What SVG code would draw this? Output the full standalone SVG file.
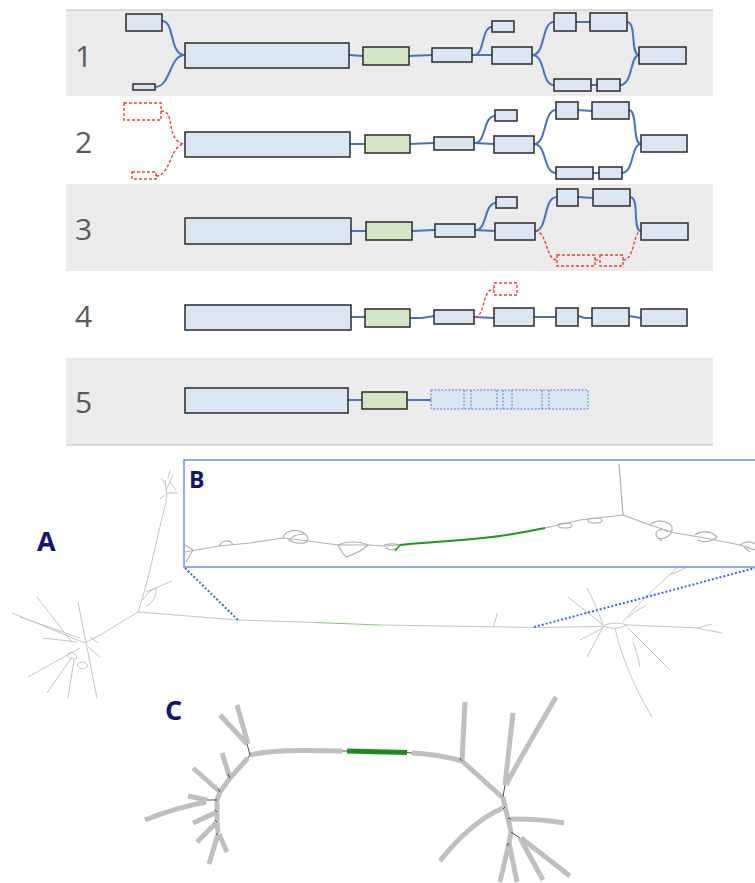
<svg xmlns="http://www.w3.org/2000/svg" width="755" height="883" viewBox="0 0 755 883">
<style>
.band{fill:#ebebeb}
.num{font-family:"Open Sans","Noto Sans",sans-serif;font-size:30px;fill:#595959}
.lab{font-family:"Open Sans","Noto Sans",sans-serif;font-weight:bold;fill:#12127a}
.bx{fill:#dce6f2;stroke:#2a2a2a;stroke-width:1.5}
.gr{fill:#d3e5c3;stroke:#2a2a2a;stroke-width:1.5}
.dr{fill:none;stroke:#e8403a;stroke-width:1.4;stroke-dasharray:3,2}
.c{fill:none;stroke:#4472c4;stroke-width:2}
.cr{fill:none;stroke:#e8403a;stroke-width:1.4;stroke-dasharray:3,2}
.dot{fill:none;stroke:#5a82cc;stroke-width:1;stroke-dasharray:2,1.5}
.dotbox{fill:#d9e5f3;stroke:#5a82cc;stroke-width:1;stroke-dasharray:2,1.5}
.n{fill:none;stroke:#c4c4c4;stroke-width:1}
.nb{fill:none;stroke:#b0b0b0;stroke-width:1.2}
.t{fill:none;stroke:#bfbfbf;stroke-width:5}
.tj{fill:none;stroke:#222;stroke-width:0.8}
.zl{fill:none;stroke:#3a66dd;stroke-width:2;stroke-dasharray:2,2}
</style>
<g id="bands">
<rect class="band" x="66" y="10" width="647" height="86"/>
<rect class="band" x="66" y="184" width="647" height="87"/>
<rect class="band" x="66" y="358" width="647" height="87"/>
<line x1="66" y1="10" x2="713" y2="10" stroke="#bdbdbd" stroke-width="1.2"/>
<line x1="66" y1="445" x2="713" y2="445" stroke="#bdbdbd" stroke-width="1.2"/>
</g>
<g id="numbers">
<text class="num" x="75" y="67">1</text>
<text class="num" x="75" y="153">2</text>
<text class="num" x="75" y="240">3</text>
<text class="num" x="75" y="327">4</text>
<text class="num" x="75" y="413">5</text>
</g>
<g id="connectors">
<path class="c" d="M162,21 C175,21 169,55 185,55"/>
<path class="c" d="M155,87 C171,87 169,55 185,55"/>
<path class="c" d="M349,55 L363,56"/>
<path class="c" d="M409,56 L432,55"/>
<path class="c" d="M472,55 L492,55"/>
<path class="c" d="M474,55 C485,55 481,27 492,27"/>
<path class="c" d="M532,55 C546,55 541,22 554,22"/>
<path class="c" d="M532,55 C546,55 541,85 554,85"/>
<path class="c" d="M576,22 L590,22"/>
<path class="c" d="M591,85 L597,85"/>
<path class="c" d="M627,22 C637,22 630,55 639,55"/>
<path class="c" d="M620,85 C633,85 630,55 639,55"/>
<path class="cr" d="M161,111 C172,111 169,124 173,134 C176,141 180,144 185,144"/>
<path class="cr" d="M156,176 C171,176 170,144 185,144"/>
<path class="c" d="M350,144 L365,144"/>
<path class="c" d="M410,144 L434,143"/>
<path class="c" d="M474,143 L494,144"/>
<path class="c" d="M475,143 C486,143 483,116 495,116"/>
<path class="c" d="M534,144 C547,144 543,110 556,110"/>
<path class="c" d="M534,144 C547,144 543,173 556,173"/>
<path class="c" d="M578,110 L592,111"/>
<path class="c" d="M593,173 L599,173"/>
<path class="c" d="M629,110 C638,110 632,144 641,144"/>
<path class="c" d="M622,173 C634,173 631,144 641,144"/>
<path class="c" d="M351,231 L366,231"/>
<path class="c" d="M412,231 L435,230"/>
<path class="c" d="M475,230 L495,231"/>
<path class="c" d="M476,230 C487,230 484,203 496,203"/>
<path class="c" d="M535,231 C548,231 543,197 557,197"/>
<path class="c" d="M578,197 L593,198"/>
<path class="c" d="M630,197 C640,197 632,231 641,231"/>
<path class="cr" d="M535,231 C548,231 545,260 557,260"/>
<path class="cr" d="M595,260 L600,260"/>
<path class="cr" d="M623,260 C635,260 633,231 641,231"/>
<path class="c" d="M351,317 L365,317"/>
<path class="c" d="M410,318 L422,318 L434,316"/>
<path class="c" d="M474,317 L494,318"/>
<path class="cr" d="M475,317 C485,317 482,289 494,289"/>
<path class="c" d="M534,317 L556,317"/>
<path class="c" d="M578,316 L585,318 L592,318"/>
<path class="c" d="M629,316 L641,318"/>
<path class="c" d="M348,400 L362,400"/>
<path class="c" d="M407,400 L431,400"/>
</g>
<g id="row1">
<rect class="bx" x="126" y="14" width="36" height="17"/>
<rect class="bx" x="133" y="84" width="22" height="6"/>
<rect class="bx" x="185" y="43" width="164" height="25"/>
<rect class="gr" x="363" y="47" width="46" height="18"/>
<rect class="bx" x="432" y="48" width="40" height="14"/>
<rect class="bx" x="492" y="21" width="22" height="11"/>
<rect class="bx" x="492" y="47" width="40" height="17"/>
<rect class="bx" x="554" y="13" width="22" height="18"/>
<rect class="bx" x="590" y="13" width="37" height="18"/>
<rect class="bx" x="554" y="79" width="37" height="12"/>
<rect class="bx" x="597" y="79" width="23" height="12"/>
<rect class="bx" x="639" y="47" width="47" height="17"/>
</g>
<g id="row2">
<rect class="dr" x="124" y="103" width="37" height="17"/>
<rect class="dr" x="132" y="172" width="24" height="7"/>
<rect class="bx" x="185" y="132" width="165" height="25"/>
<rect class="gr" x="365" y="135" width="45" height="18"/>
<rect class="bx" x="434" y="137" width="40" height="13"/>
<rect class="bx" x="495" y="110" width="22" height="11"/>
<rect class="bx" x="494" y="136" width="40" height="17"/>
<rect class="bx" x="556" y="102" width="22" height="17"/>
<rect class="bx" x="592" y="102" width="37" height="17"/>
<rect class="bx" x="556" y="167" width="37" height="12"/>
<rect class="bx" x="599" y="167" width="23" height="12"/>
<rect class="bx" x="641" y="135" width="46" height="17"/>
</g>
<g id="row3">
<rect class="bx" x="185" y="218" width="166" height="26"/>
<rect class="gr" x="366" y="222" width="46" height="18"/>
<rect class="bx" x="435" y="224" width="40" height="13"/>
<rect class="bx" x="496" y="197" width="21" height="11"/>
<rect class="bx" x="495" y="223" width="40" height="17"/>
<rect class="bx" x="557" y="189" width="21" height="17"/>
<rect class="bx" x="593" y="189" width="37" height="17"/>
<rect class="dr" x="557" y="255" width="38" height="11"/>
<rect class="dr" x="600" y="255" width="23" height="11"/>
<rect class="bx" x="641" y="223" width="47" height="17"/>
</g>
<g id="row4">
<rect class="bx" x="185" y="305" width="166" height="25"/>
<rect class="gr" x="365" y="309" width="45" height="18"/>
<rect class="bx" x="434" y="310" width="40" height="14"/>
<rect class="dr" x="494" y="283" width="23" height="12"/>
<rect class="bx" x="494" y="308" width="40" height="18"/>
<rect class="bx" x="556" y="308" width="22" height="18"/>
<rect class="bx" x="592" y="308" width="37" height="18"/>
<rect class="bx" x="641" y="309" width="46" height="17"/>
</g>
<g id="row5">
<rect class="bx" x="185" y="388" width="163" height="25"/>
<rect class="gr" x="362" y="392" width="45" height="17"/>
<rect class="dotbox" x="431" y="390" width="157" height="19"/>
<path class="dot" d="M464,390 V409 M471,390 V409 M497,390 V409 M503,390 V409 M512,390 V409 M542,390 V409 M549,390 V409"/>
</g>
<g id="panelA">
<path class="n" d="M138,612 L238,620 L315,622.5"/>
<path d="M315,622.5 L380,625" fill="none" stroke="#6fd36f" stroke-width="1.2"/>
<path class="n" d="M380,625 L534,627.5 L603,626.5"/>
<path class="n" d="M494,626 C495,620 497,616 497,613"/>
<path class="n" d="M138,612 C143,598 150,570 155,548 C159,530 164,510 167,498"/>
<path class="n" d="M146,592 L172,581"/>
<path class="n" d="M143,600 C147,592 152,590 156,588 C157,596 152,604 146,606"/>
<path class="n" d="M167,498 L165,480 M166,490 L173,475 M167,493 L178,493 M166,485 L161,478 M170,482 L176,490 M168,478 L170,470 M165,495 L160,499"/>
<path class="n" d="M138,612 L100,635 L85,643"/>
<path class="n" d="M85,643 L12,613 M80,638 L20,617"/>
<path class="n" d="M72,642 L37,597"/>
<path class="n" d="M78,602 L97,698"/>
<path class="n" d="M77,642 L43,638"/>
<path class="n" d="M80,648 L28,677"/>
<path class="n" d="M72,657 L47,693"/>
<path class="n" d="M74,660 L68,698"/>
<path class="n" d="M88,647 L100,657"/>
<path class="n" d="M90,637 L98,643"/>
<path class="n" d="M67,655 C70,651 76,652 77,658 C73,660 69,659 67,655"/>
<path class="n" d="M77,665 C80,661 86,661 88,666 C85,670 80,670 77,665"/>
<path class="n" d="M603,626 C608,623 618,622 627,625 C620,629 610,629 603,626"/>
<path class="n" d="M627,625 C650,626 680,627 697,628 L722,633 M697,628 L712,624"/>
<path class="n" d="M615,628 C620,650 630,680 652,717"/>
<path class="n" d="M627,627 L670,670"/>
<path class="n" d="M633,642 C636,650 638,658 640,667"/>
<path class="n" d="M603,627 L587,657"/>
<path class="n" d="M603,628 L580,640"/>
<path class="n" d="M603,625 L568,597"/>
<path class="n" d="M603,625 C598,610 592,598 587,588"/>
<path class="n" d="M623,622 C640,600 665,580 685,560 L690,555 M670,575 L703,560"/>
<path class="n" d="M628,618 C634,612 640,608 646,606"/>
</g>
<g id="zoomlines">
<path class="zl" d="M185,568 L238,620"/>
<path class="zl" d="M534,627 L755,568"/>
</g>
<g id="panelB">
<rect x="184" y="460" width="580" height="107" fill="#ffffff" stroke="#6e90e8" stroke-width="1.5"/>
<path class="nb" d="M185,552 L219,546 L250,543 L283,538 L308,541 L338,545 L368,545 L385,546 L400,545"/>
<path class="nb" d="M185,545 L193,550 L186,562"/>
<path class="nb" d="M219,546 C222,540 230,539 233,545"/>
<path class="nb" d="M283,538 C285,530 297,528 305,534 C310,538 308,542 304,543 C296,544 290,541 289,540 C293,535 300,534 305,534"/>
<path class="nb" d="M338,545 C345,541 360,541 368,545 C362,551 352,555 346,557 C342,553 340,549 338,545"/>
<path class="nb" d="M384,545 C390,543 396,544 400,545 C397,550 390,551 386,548"/>
<path d="M400,545 C430,542 470,540 500,536 C515,534 530,531 545,528" fill="none" stroke="#1a9a1a" stroke-width="2"/>
<path d="M400,545 L395,551" fill="none" stroke="#1a9a1a" stroke-width="1.5"/>
<path class="nb" d="M545,528 L580,520 L623,515"/>
<ellipse class="nb" cx="565" cy="525.5" rx="7" ry="2.5"/>
<ellipse class="nb" cx="595" cy="520.5" rx="7" ry="2.5"/>
<path class="nb" d="M623,515 L619,464"/>
<path class="nb" d="M623,515 L650,525 L675,533 L705,538 L740,545 L755,550"/>
<path class="nb" d="M650,525 C655,519 668,520 672,527 C673,535 665,540 658,538 C652,533 660,526 668,532 M658,538 L662,541"/>
<path class="nb" d="M695,535 C700,530 712,531 717,537 C712,542 703,543 698,540"/>
<path class="nb" d="M740,545 C745,541 752,541 755,544 M744,547 L750,552"/>
<text class="lab" x="189" y="488" font-size="23">B</text>
</g>
<g id="labelA"><text class="lab" x="37" y="551" font-size="27">A</text></g>
<g id="panelC">
<text class="lab" x="165" y="720" font-size="27">C</text>
<path class="t" d="M250,755 C270,750 300,750 342,751"/>
<path d="M347,751 L407,752.5" fill="none" stroke="#1d8a1d" stroke-width="5"/>
<path class="t" d="M412,753 C430,754 448,757 462,761"/>
<path class="tj" d="M342,751 L347,751 M407,752.5 L412,753"/>
<path class="t" d="M247,744 L220,715 M248,744 L237,705"/>
<path class="t" d="M248,758 L230,778 L220,792 L217,800 L217,812 L217,822 L218,833"/>
<path class="t" d="M230,778 L222,753"/>
<path class="t" d="M220,792 L193,768"/>
<path class="t" d="M207,800 L188,796"/>
<path class="t" d="M206,802 C185,806 165,812 145,820"/>
<path class="t" d="M217,812 L193,823"/>
<path class="t" d="M217,822 L197,842"/>
<path class="t" d="M218,834 L209,864 M219,834 L227,852"/>
<path class="tj" d="M247,744 L250,755 L248,758 M230,778 L228,774 M220,792 L218,789 M217,800 L207,800 M217,812 L215,810 M217,822 L215,820 M218,833 L216,835"/>
<path class="t" d="M462,761 L465,702"/>
<path class="t" d="M462,761 L502,797"/>
<path class="t" d="M505,785 L513,713 M506,785 C520,758 540,725 556,697"/>
<path class="t" d="M503,797 L505,807 L508,818 L511,832 L509,843"/>
<path class="t" d="M503,808 C480,818 458,838 440,861"/>
<path class="t" d="M511,819 C530,819 548,820 564,823"/>
<path class="t" d="M509,843 L500,882 M509,843 L517,882"/>
<path class="t" d="M520,838 L543,880 M521,838 L570,876"/>
<path class="tj" d="M462,761 L460,758 M505,785 L503,797 M505,807 L503,809 M508,818 L511,819 M511,832 L520,838 M509,843 L507,846"/>
</g>
</svg>
